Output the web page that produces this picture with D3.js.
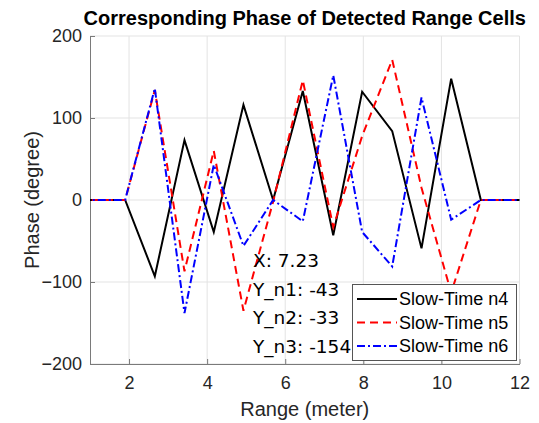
<!DOCTYPE html>
<html>
<head>
<meta charset="utf-8">
<script src="https://cdn.jsdelivr.net/npm/d3@7"></script>
<style>
   body { margin: 0; background: #fff; }
   svg { display: block; font-family: "Liberation Sans", Arial, sans-serif; }
</style>
</head>
<body>
<svg id="chart" width="539" height="423"></svg>
<script>
// Данные графика
const rangeCells = [0.38, 1.14, 1.90, 2.66, 3.42, 4.17, 4.93, 5.69, 6.45, 7.23, 7.97, 8.74, 9.49, 10.25, 11.01, 11.77, 12.53];
const phaseN4 = [0, 0, 0, -93, 73, -39, 116, 0, 133, -43, 132, 84, -59, 148, 0, 0, 0];
const phaseN5 = [0, 0, 0, 134, -87, 60, -135, -2, 146, -33, 78, 171, 15, -113, 0, 0, 0];
const phaseN6 = [0, 0, 0, 136, -138, 43, -56, 0, -26, 152, -39, -81, 125, -24, 0, 0, 0];
const seriesNames = ["Slow-Time n4", "Slow-Time n5", "Slow-Time n6"];
const xTicks = [2, 4, 6, 8, 10, 12];
const yTicks = [-200, -100, 0, 100, 200];
const tipLines = ["X: 7.23", "Y_n1: -43", "Y_n2: -33", "Y_n3: -154"];

// Параметры отрисовки
const attr_area = {
   left: 90,
   right: 519.5,
   top: 36,
   bottom: 364
};

const styles = [
   { color: "#000000", dash: null },
   { color: "#ff0000", dash: "8,5" },
   { color: "#0000ff", dash: "8,3,2,3" }
];

const svg = d3.select("#chart");

const scaleX = d3.scaleLinear().domain([1, 12]).range([attr_area.left, attr_area.right]);
const scaleY = d3.scaleLinear().domain([-200, 200]).range([attr_area.bottom, attr_area.top]);

// Сетка
svg.append("g")
   .selectAll("line")
   .data(xTicks)
   .enter()
   .append("line")
   .attr("x1", d => scaleX(d)).attr("x2", d => scaleX(d))
   .attr("y1", attr_area.top).attr("y2", attr_area.bottom)
   .attr("stroke", "#e3e3e3");

svg.append("g")
   .selectAll("line")
   .data(yTicks)
   .enter()
   .append("line")
   .attr("x1", attr_area.left).attr("x2", attr_area.right)
   .attr("y1", d => scaleY(d)).attr("y2", d => scaleY(d))
   .attr("stroke", "#e3e3e3");

// Оси
const gX = svg.append("g")
   .attr("transform", `translate(0, ${attr_area.bottom})`)
   .call(d3.axisBottom(scaleX).tickValues(xTicks).tickSizeInner(-5).tickSizeOuter(0).tickPadding(12));

const gY = svg.append("g")
   .attr("transform", `translate(${attr_area.left}, 0)`)
   .call(d3.axisLeft(scaleY).tickValues(yTicks).tickSizeInner(-5).tickSizeOuter(0).tickPadding(8));

[gX, gY].forEach(g => {
   g.select(".domain").attr("stroke", "#7a7a7a").attr("stroke-width", 1);
   g.selectAll(".tick line").attr("stroke", "#7a7a7a");
   g.selectAll("text")
       .attr("fill", "#262626")
       .style("font-size", "18px")
       .style("font-family", "Liberation Sans, Arial, sans-serif");
});

// Линии
svg.append("clipPath")
   .attr("id", "plotClip")
   .append("rect")
   .attr("x", attr_area.left)
   .attr("y", attr_area.top - 2)
   .attr("width", attr_area.right - attr_area.left)
   .attr("height", attr_area.bottom - attr_area.top + 4);

const allSeries = [phaseN4, phaseN5, phaseN6];

const line = d3.line()
   .x(d => scaleX(d[0]))
   .y(d => scaleY(d[1]));

allSeries.forEach((values, i) => {
   const points = rangeCells.map((r, k) => [r, values[k]]);
   svg.append("path")
       .datum(points)
       .attr("clip-path", "url(#plotClip)")
       .attr("fill", "none")
       .attr("stroke", styles[i].color)
       .attr("stroke-width", 2)
       .attr("stroke-dasharray", styles[i].dash)
       .attr("d", line);
});

// Подсказка data tip
svg.append("g")
   .selectAll("text")
   .data(tipLines)
   .enter()
   .append("text")
   .attr("x", 253)
   .attr("y", (d, i) => 261 + i * 28.5)
   .attr("dy", "0.35em")
   .style("font-family", "DejaVu Sans, sans-serif")
   .style("font-size", "18.5px")
   .attr("fill", "#000")
   .text(d => d);

// Легенда
const legend = svg.append("g");

legend.append("rect")
   .attr("x", 352.5)
   .attr("y", 284.5)
   .attr("width", 164)
   .attr("height", 76)
   .attr("fill", "#fff")
   .attr("stroke", "#555");

seriesNames.forEach((name, i) => {
   const cy = 299 + i * 23.5;
   legend.append("line")
       .attr("x1", 357).attr("x2", 397)
       .attr("y1", cy).attr("y2", cy)
       .attr("stroke", styles[i].color)
       .attr("stroke-width", 2)
       .attr("stroke-dasharray", styles[i].dash);
   legend.append("text")
       .attr("x", 399)
       .attr("y", cy)
       .attr("dy", "0.35em")
       .style("font-size", "18px")
       .attr("fill", "#000")
       .text(name);
});

// Подписи
svg.append("text")
   .attr("x", (attr_area.left + attr_area.right) / 2)
   .attr("y", 18)
   .attr("dy", "0.35em")
   .attr("text-anchor", "middle")
   .style("font-size", "20px")
   .style("font-weight", "bold")
   .attr("fill", "#000")
   .text("Corresponding Phase of Detected Range Cells");

svg.append("text")
   .attr("x", (attr_area.left + attr_area.right) / 2)
   .attr("y", 409)
   .attr("dy", "0.35em")
   .attr("text-anchor", "middle")
   .style("font-size", "20px")
   .attr("fill", "#262626")
   .text("Range (meter)");

svg.append("text")
   .attr("transform", `translate(32, ${(attr_area.top + attr_area.bottom) / 2}) rotate(-90)`)
   .attr("dy", "0.35em")
   .attr("text-anchor", "middle")
   .style("font-size", "20px")
   .attr("fill", "#262626")
   .text("Phase (degree)");
</script>
</body>
</html>
